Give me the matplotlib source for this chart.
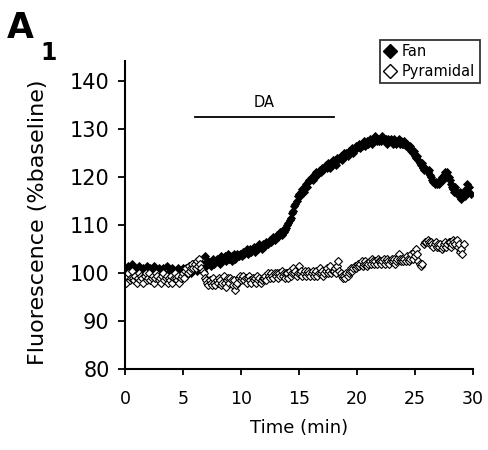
import numpy as np
import matplotlib
matplotlib.use("Agg")
import matplotlib.pyplot as plt
from matplotlib.lines import Line2D

plt.rcParams['font.family'] = ['DejaVu Sans']

dt = 0.1  # sampling interval (min)

fan = [
    101, 99.5, 100.5, 101.5, 99, 100, 102, 100.5, 99.5, 101, 100, 98.5, 101.5, 100, 99, 100.5, 101, 99.5, 100, 101.5,
    99.5, 100.5, 101, 99, 100, 101.5, 100.5, 98.5, 100, 101, 99.5, 100.5, 99, 101, 100, 99.5, 101.5, 100, 99, 100.5,
    100, 101, 99.5, 100.5, 98.5, 100, 101, 99.5, 100.5, 99, 101, 100, 100.5, 99.5, 101, 100.5, 101.5, 100, 101, 102,
    101, 102, 100.5, 101.5, 102.5, 101, 102, 101.5, 102, 103.5, 101.5, 102, 102.5, 102, 101.5, 102.5, 103, 102, 102.5, 103,
    102.5, 103, 102, 103.5, 102.5, 103, 103.5, 102.5, 103, 104, 103, 103.5, 102.5, 103.5, 104, 103, 103.5, 104, 103.5, 104,
    104, 103.5, 104.5, 104, 104.5, 105, 104, 104.5, 105, 104.5, 105, 105.5, 104.5, 105, 105.5, 105, 106, 105.5, 105, 106,
    105.5, 106, 106.5, 106, 106.5, 107, 106.5, 107, 107.5, 107, 107.5, 108, 107.5, 108, 108.5, 108, 109, 108.5, 109, 109.5,
    110, 110.5, 111, 111.5, 112.5, 113, 114, 114.5, 115, 116, 116.5, 116, 117, 117.5, 117, 118, 118.5, 118, 119, 119.5,
    119.5, 120, 119.5, 120.5, 120, 121, 120.5, 121, 121.5, 121, 122, 121.5, 122, 122.5, 122, 123, 122.5, 122, 123, 123.5,
    123, 123.5, 122.5, 124, 123.5, 124, 124.5, 123.5, 124, 125, 124.5, 125, 124.5, 125.5, 125, 125.5, 126, 125, 126, 126.5,
    126, 126.5, 127, 126, 126.5, 127, 127.5, 126.5, 127, 127.5, 127, 128, 127.5, 127, 128, 127.5, 128.5, 127.5, 128, 127.5,
    128, 127.5, 128.5, 128, 127.5, 128, 127, 128, 127.5, 128, 127.5, 127, 128, 127.5, 127, 127.5, 128, 127, 127.5, 127,
    127, 127.5, 126.5, 127, 126.5, 126, 126.5, 125.5, 125, 125.5, 124.5, 124, 124.5, 123.5, 123, 122.5, 123, 122, 121.5, 122,
    121.5, 121, 121.5, 120.5, 120, 119.5, 119, 118.5, 119, 118.5, 119, 118.5, 119.5, 120, 119.5, 120.5, 121, 120.5, 121, 120,
    119.5, 118.5, 118, 117.5, 117, 118, 117, 116.5, 116, 117, 115.5, 116.5, 117, 116, 117.5, 118.5, 117, 118, 116.5,
]

pyramidal = [
    99, 98, 99.5, 100, 98.5, 99, 100.5, 99, 98.5, 99.5, 98, 99, 100, 98.5, 99.5, 99, 98, 99.5, 100, 98.5,
    99, 100, 98.5, 99, 99.5, 98, 99, 100, 99.5, 98.5, 99, 98, 99.5, 100, 98.5, 99, 99.5, 98, 99, 98.5,
    99.5, 98, 99, 100, 99, 98.5, 99.5, 98, 99, 99.5, 100, 99, 100.5, 101, 100, 101.5, 100.5, 101, 102, 101,
    102, 101, 102.5, 101.5, 103, 102, 101, 100.5, 100, 99, 98.5, 98, 97.5, 98.5, 98, 97.5, 99, 98, 97.5, 98.5,
    98, 99, 98.5, 97.5, 98, 99.5, 98, 97, 98.5, 99, 98, 99, 98.5, 97.5, 98.5, 96.5, 97.5, 98, 99, 99.5,
    98.5, 99, 99.5, 98.5, 99, 98, 99, 99.5, 98.5, 98, 99, 98.5, 99, 98, 99.5, 98.5, 99, 98, 98.5, 99,
    99, 99.5, 98.5, 100, 99.5, 99, 100, 99.5, 99, 100, 99.5, 100, 99, 100, 99.5, 100.5, 99.5, 100, 99, 100,
    100, 99, 100.5, 99.5, 100, 101, 100, 100.5, 99.5, 100, 101.5, 100, 100.5, 99.5, 100, 100.5, 99.5, 100, 100.5, 100,
    99.5, 100, 100.5, 99.5, 100, 100.5, 99.5, 100, 101, 100, 100.5, 99.5, 100, 100.5, 101, 100, 100.5, 101.5, 100, 100.5,
    100.5, 101, 100, 101.5, 102.5, 100.5, 100, 99.5, 99, 99.5, 99, 100, 99.5, 100, 100.5, 101, 100.5, 101, 101.5, 101,
    101.5, 102, 101.5, 102, 102.5, 101.5, 102, 102.5, 102, 101.5, 102, 102.5, 102, 103, 102.5, 102, 102.5, 102, 103, 102.5,
    102.5, 102, 102.5, 103, 102, 102.5, 103, 102.5, 102, 102.5, 103, 102.5, 103, 102, 102.5, 103, 104, 103, 102.5, 103,
    102.5, 103, 102.5, 103.5, 103, 102.5, 103, 104, 103, 104.5, 103.5, 105, 104, 102.5, 102, 101.5, 102, np.nan, 106, 106.5,
    106.5, 107, 106.5, 106, 106.5, 106, 105.5, 106, 106.5, 105.5, 106, 105.5, 106, 105, 105.5, 106, 106.5, 105.5, 106, 106.5,
    106.5, 105.5, 106, 107, 106.5, 106, 107, 105.5, 106, 104.5, 105, 104, 106,
]

x_ticks = [0, 5, 10, 15, 20, 25, 30]
y_ticks = [80, 90, 100, 110, 120, 130, 140]
da_start, da_end, da_level = 6, 18, 132.5

t_fan = np.arange(len(fan)) * dt
t_pyr = np.arange(len(pyramidal)) * dt

fig = plt.figure(figsize=(4.88, 4.5), dpi=100)
ax = fig.add_axes([0.256, 0.18, 0.713, 0.684])

ax.plot(t_fan, fan, linestyle='none', marker='D', markersize=3.6,
        color='black', markeredgewidth=0.6)
ax.plot(t_pyr, pyramidal, linestyle='none', marker='D', markersize=3.6,
        markerfacecolor='white', markeredgecolor='black', markeredgewidth=0.8)

ax.plot([da_start, da_end], [da_level, da_level], color='black', linewidth=1.3)
ax.text((da_start + da_end) / 2, 135.6, 'DA', ha='center', va='center', fontsize=10.5)

ax.set_xlim(0, 30)
ax.set_ylim(80, 144.2)
ax.set_xticks(x_ticks)
ax.set_yticks(y_ticks)
for s in ['top', 'right']:
    ax.spines[s].set_visible(False)
for s in ['left', 'bottom']:
    ax.spines[s].set_linewidth(1.5)
ax.tick_params(axis='y', direction='out', length=5, width=1.3, labelsize=15, pad=6)
ax.tick_params(axis='x', direction='out', length=4, width=1.3, labelsize=12.5, pad=11)

ax.set_xlabel('Time (min)', fontsize=13, labelpad=8)
ax.set_ylabel('Fluorescence (%baseline)', fontsize=16)
ax.yaxis.set_label_coords(-0.221, 0.477)

fig.text(7 / 488, 1 - 38 / 450, 'A', fontsize=25, fontweight='bold', ha='left', va='baseline')
fig.text(40 / 488, 1 - 60 / 450, '1', fontsize=17, fontweight='bold', ha='left', va='baseline')

handles = [
    Line2D([], [], linestyle='none', marker='D', markersize=7, color='black'),
    Line2D([], [], linestyle='none', marker='D', markersize=7,
           markerfacecolor='white', markeredgecolor='black'),
]
leg = ax.legend(handles, ['Fan', 'Pyramidal'], loc='upper left',
                bbox_to_anchor=(380 / 488, 1 - 40 / 450), bbox_transform=fig.transFigure,
                borderaxespad=0, fontsize=10.5, frameon=True, fancybox=False,
                handlelength=0.8, handletextpad=0.4, borderpad=0.3, labelspacing=0.3)
leg.get_frame().set_edgecolor('black')
leg.get_frame().set_linewidth(1.3)

fig.savefig('out.png', dpi=100)
